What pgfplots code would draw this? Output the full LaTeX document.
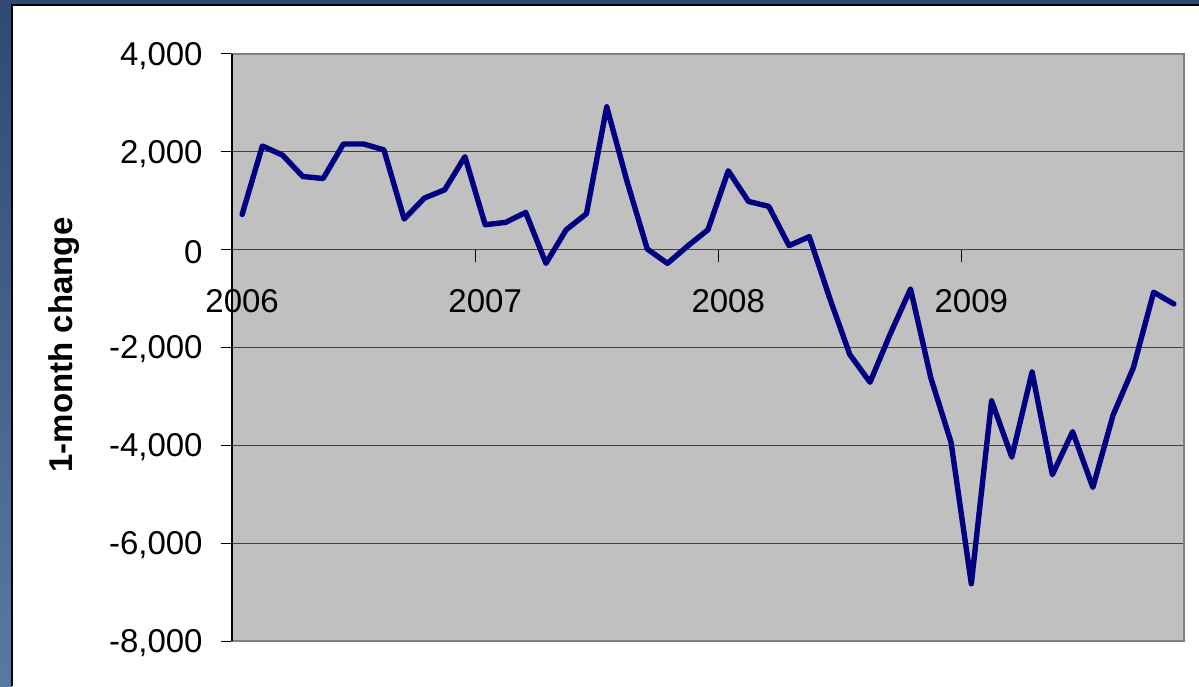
\documentclass[border=0pt]{standalone}
\usepackage{pgfplots}
\pgfplotsset{compat=1.18}
\usepackage{fontspec}
\setmainfont{Liberation Sans}
\definecolor{plotgray}{RGB}{192,192,192}
\definecolor{navyline}{RGB}{0,0,128}
\definecolor{bordertop}{RGB}{46,74,116}
\definecolor{borderbot}{RGB}{88,122,160}
\begin{document}
\begin{tikzpicture}
\path[use as bounding box, fill=white] (0,0) rectangle (599.5pt,343pt);
\shade[top color=bordertop, bottom color=borderbot] (0,0) rectangle (6pt,343pt);
\fill[bordertop] (0,340.5pt) rectangle (599.5pt,343pt);
\draw[black, line width=1pt] (6pt,0) -- (6pt,340.5pt) -- (599.5pt,340.5pt);
\begin{axis}[
  at={(116pt,22.5pt)}, anchor=south west,
  scale only axis, width=476pt, height=293.5pt,
  xmin=-0.5, xmax=46.5, ymin=-8000, ymax=4000,
  enlargelimits=false,
  axis background/.style={fill=plotgray},
  axis line style={draw=gray, line width=0.8pt},
  xtick=\empty,
  ytick={-8000,-6000,-4000,-2000,0,2000,4000},
  ytick pos=left, ytick align=outside,
  major tick length=5.5pt,
  tick style={black, line width=0.5pt},
  ymajorgrids, grid style={black!75, line width=0.5pt},
  /pgf/number format/assume math mode=true,
  /pgf/number format/1000 sep={,},
  yticklabel style={font=\fontsize{16.5}{19}\selectfont, anchor=east, inner sep=0pt, xshift=-9pt, yshift=-1pt},
  clip=false,
]
\addplot[navyline, line width=2.7pt, line join=round, line cap=round] coordinates {
(0,720) (1,2120) (2,1930) (3,1495) (4,1455) (5,2160) (6,2160) (7,2040)
(8,626) (9,1055) (10,1224) (11,1900) (12,510) (13,557) (14,761) (15,-280)
(16,408) (17,734) (18,2920) (19,1400) (20,14) (21,-280) (22,76) (23,408)
(24,1612) (25,986) (26,885) (27,82) (28,265) (29,-980) (30,-2143) (31,-2710)
(32,-1720) (33,-803) (34,-2620) (35,-3940) (36,-6830) (37,-3090) (38,-4240) (39,-2500)
(40,-4600) (41,-3720) (42,-4860) (43,-3380) (44,-2415) (45,-870) (46,-1110)
};
\draw[black, line width=0.6pt] (axis cs:-0.5,-8000) -- (axis cs:-0.5,4000);
\draw[black, line width=0.5pt] (axis cs:11.5,0) -- ++(0pt,-6pt);
\draw[black, line width=0.5pt] (axis cs:23.5,0) -- ++(0pt,-6pt);
\draw[black, line width=0.5pt] (axis cs:35.5,0) -- ++(0pt,-6pt);
\node[font=\fontsize{16.5}{19}\selectfont, anchor=center, inner sep=0pt] at ([yshift=-25.5pt]axis cs:0,0) {2006};
\node[font=\fontsize{16.5}{19}\selectfont, anchor=center, inner sep=0pt] at ([yshift=-25.5pt]axis cs:12,0) {2007};
\node[font=\fontsize{16.5}{19}\selectfont, anchor=center, inner sep=0pt] at ([yshift=-25.5pt]axis cs:24,0) {2008};
\node[font=\fontsize{16.5}{19}\selectfont, anchor=center, inner sep=0pt] at ([yshift=-25.5pt]axis cs:36,0) {2009};
\end{axis}
\node[rotate=90, font=\bfseries\fontsize{16.5}{19}\selectfont, inner sep=0pt] at (32pt,170.5pt) {1-month change};
\end{tikzpicture}
\end{document}
